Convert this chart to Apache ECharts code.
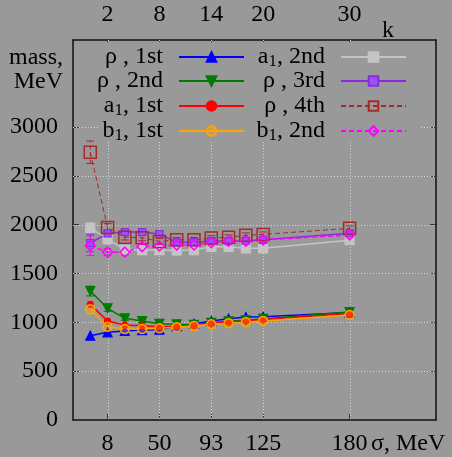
<!DOCTYPE html>
<html>
<head>
<meta charset="utf-8">
<script src="https://cdn.jsdelivr.net/npm/echarts/dist/echarts.min.js"></script>
<style>
  html, body { margin: 0; padding: 0; background: #999999; }
  #chart { width: 452px; height: 457px; }
</style>
</head>
<body>
<div id="chart"></div>
<script>
// k on the top axis, sigma (MeV) shown at the same positions on the bottom
var kValues = [0, 2, 4, 6, 8, 10, 12, 14, 16, 18, 20, 30];
var kTicks = [2, 8, 14, 20, 30];
var sigmaLabels = ['8', '50', '93', '125', '180'];
var massTicks = [0, 500, 1000, 1500, 2000, 2500, 3000];

var rho1 = [863, 898, 911, 921, 925, 960, 985, 1013, 1037, 1054, 1057, 1100];
var rho2 = [1320, 1143, 1041, 1013, 985, 980, 975, 995, 1010, 1020, 1035, 1105];
var a1First = [1184, 1013, 972, 965, 955, 960, 968, 990, 1000, 1015, 1030, 1090];
var b1First = [1133, 955, 931, 931, 938, 949, 962, 979, 990, 1000, 1013, 1075];
var a1Second = [1966, 1853, 1745, 1740, 1740, 1735, 1740, 1773, 1773, 1757, 1757, 1840];
var rho3 = [1812, 1911, 1924, 1924, 1904, 1819, 1820, 1832, 1832, 1835, 1844, 1911];
var rho4 = [2741, 1970, 1872, 1865, 1827, 1844, 1844, 1862, 1870, 1890, 1900, 1962];
var b1Second = [1785, 1718, 1718, 1775, 1782, 1792, 1792, 1816, 1830, 1830, 1844, 1895];

// error bars (half widths)
var rho2Err = [50, 30, 20, 15, 15, 15, 15, 15, 15, 15, 15, 20];
var a1SecondErr = [50, 50, 40, 40, 45, 45, 40, 40, 40, 40, 40, 40];
var rho3Err = [90, 30, 25, 25, 25, 20, 20, 20, 20, 20, 20, 25];
var rho4Err = [115, 40, 30, 30, 30, 25, 25, 25, 25, 25, 25, 25];
var b1SecondErr = [100, 35, 30, 25, 25, 25, 25, 25, 25, 25, 25, 25];

var BG = '#999999';
var FONT = 'Liberation Serif';
var GRID_COLOR = '#d6d6d6';

function pairs(vals) {
  return kValues.map(function (k, i) { return [k, vals[i]]; });
}

function errorSeries(vals, errs, color, dashed) {
  return {
    type: 'custom',
    silent: true,
    data: kValues.map(function (k, i) { return [k, vals[i] - errs[i], vals[i] + errs[i]]; }),
    encode: { x: 0, y: [1, 2] },
    renderItem: function (params, api) {
      var lo = api.coord([api.value(0), api.value(1)]);
      var hi = api.coord([api.value(0), api.value(2)]);
      var st = { stroke: color, lineWidth: 1 };
      if (dashed) st.lineDash = [4, 3];
      return {
        type: 'group',
        children: [
          { type: 'line', shape: { x1: lo[0], y1: lo[1], x2: hi[0], y2: hi[1] }, style: st },
          { type: 'line', shape: { x1: lo[0] - 4, y1: lo[1], x2: lo[0] + 4, y2: lo[1] }, style: { stroke: color, lineWidth: 1 } },
          { type: 'line', shape: { x1: hi[0] - 4, y1: hi[1], x2: hi[0] + 4, y2: hi[1] }, style: { stroke: color, lineWidth: 1 } }
        ]
      };
    }
  };
}

// dotted grid through the tick positions
function gridSeries(points, vertical) {
  return {
    type: 'custom',
    silent: true,
    data: points,
    encode: { x: 0, y: 1 },
    renderItem: function (params, api) {
      var cs = params.coordSys;
      var p = api.coord([api.value(0), api.value(1)]);
      var shape = vertical
        ? { x1: Math.round(p[0]) + 0.5, y1: cs.y, x2: Math.round(p[0]) + 0.5, y2: cs.y + cs.height }
        : { x1: cs.x, y1: Math.round(p[1]) + 0.5, x2: cs.x + cs.width, y2: Math.round(p[1]) + 0.5 };
      return { type: 'line', shape: shape, style: { stroke: GRID_COLOR, lineWidth: 1, lineDash: [1, 2] } };
    }
  };
}

function lineSeries(name, vals, color, symbol, size, opts) {
  opts = opts || {};
  return {
    name: name,
    type: 'line',
    data: pairs(vals),
    symbol: symbol,
    symbolSize: size,
    symbolRotate: opts.rotate || 0,
    lineStyle: { color: color, width: opts.width || 1.5, type: opts.dashed ? [5, 3] : 'solid' },
    itemStyle: { color: opts.fill || color, borderColor: color, borderWidth: opts.border || 1.2 },
    emphasis: { disabled: true },
    animation: false
  };
}

var chart = echarts.init(document.getElementById('chart'));

var legendRows = [58, 82, 107, 132];
var col1 = ['ρ , 1st', 'ρ , 2nd', 'a1, 1st', 'b1, 1st'];
var col2 = ['a1, 2nd', 'ρ , 3rd', 'ρ , 4th', 'b1, 2nd'];
var legends = [];
function addLegend(name, row, right) {
  legends.push({
    data: [name],
    top: legendRows[row] - 13,
    right: right,
    align: 'right',
    padding: 0,
    itemWidth: 65,
    itemHeight: 12,
    selectedMode: false,
    formatter: function (n) { return n.replace(/^([ab])1/, '$1{sub|1}') + '{gap|}'; },
    textStyle: {
      fontFamily: FONT, fontSize: 24, color: '#000',
      rich: {
        sub: { fontFamily: FONT, fontSize: 17, color: '#000', padding: [9, 0, 0, 0], verticalAlign: 'bottom' },
        gap: { width: 11 }
      }
    }
  });
}
col1.forEach(function (n, i) { addLegend(n, i, 207); });
col2.forEach(function (n, i) { addLegend(n, i, 45); });

var axisLine = { show: true, onZero: false, lineStyle: { color: '#111', width: 1.5 } };
var tickStyle = { show: true, inside: true, length: 6, lineStyle: { color: '#333', width: 1 } };
var labelStyle = { fontFamily: FONT, fontSize: 24, color: '#000' };

chart.setOption({
  backgroundColor: BG,
  animation: false,
  grid: { left: 73, right: 16, top: 40, bottom: 37, outerBoundsMode: 'none' },
  legend: legends,
  xAxis: [
    {
      type: 'value', position: 'bottom', min: -2, max: 40,
      axisLine: axisLine,
      axisTick: Object.assign({ customValues: kTicks }, tickStyle),
      axisLabel: Object.assign({
        customValues: kTicks, margin: 12,
        formatter: function (v) { return sigmaLabels[kTicks.indexOf(v)]; }
      }, labelStyle),
      splitLine: { show: false }
    },
    {
      type: 'value', position: 'top', min: -2, max: 40,
      axisLine: axisLine,
      axisTick: Object.assign({ customValues: kTicks }, tickStyle),
      axisLabel: Object.assign({ customValues: kTicks, margin: 13, formatter: function (v) { return String(v); } }, labelStyle),
      splitLine: { show: false }
    }
  ],
  yAxis: [
    {
      type: 'value', position: 'left', min: 0, max: 3890,
      axisLine: axisLine,
      axisTick: Object.assign({ customValues: massTicks }, tickStyle),
      axisLabel: Object.assign({ customValues: massTicks, margin: 15, formatter: function (v) { return String(v); } }, labelStyle),
      splitLine: { show: false }
    },
    {
      type: 'value', position: 'right', min: 0, max: 3890,
      axisLine: axisLine,
      axisTick: Object.assign({ customValues: massTicks }, tickStyle),
      axisLabel: { show: false },
      splitLine: { show: false }
    }
  ],
  graphic: [
    // opaque key box
    { type: 'rect', z: 3, silent: true, shape: { x: 100, y: 42, width: 321, height: 98 }, style: { fill: BG } },
    { type: 'text', z: 5, style: { text: 'mass,', x: 63, y: 58, align: 'right', verticalAlign: 'middle', font: '24px "Liberation Serif"', fill: '#000' } },
    { type: 'text', z: 5, style: { text: 'MeV', x: 63, y: 82, align: 'right', verticalAlign: 'middle', font: '24px "Liberation Serif"', fill: '#000' } },
    { type: 'text', z: 5, style: { text: 'k', x: 382, y: 31, align: 'left', verticalAlign: 'middle', font: '24px "Liberation Serif"', fill: '#000' } },
    { type: 'text', z: 5, style: { text: 'σ, MeV', x: 371, y: 444, align: 'left', verticalAlign: 'middle', font: '24px "Liberation Serif"', fill: '#000' } }
  ],
  series: [
    gridSeries(kTicks.map(function (k) { return [k, 0]; }), true),
    gridSeries(massTicks.slice(1).map(function (m) { return [0, m]; }), false),
    lineSeries('ρ , 1st', rho1, '#0000ff', 'triangle', 9),
    errorSeries(rho2, rho2Err, '#007a00', false),
    lineSeries('ρ , 2nd', rho2, '#007a00', 'triangle', 9, { rotate: 180 }),
    lineSeries('a1, 1st', a1First, '#ff0000', 'circle', 6),
    lineSeries('b1, 1st', b1First, '#ffa500', 'circle', 9, { fill: 'rgba(255,165,0,0.35)', border: 1.5 }),
    errorSeries(a1Second, a1SecondErr, '#c4c4c4', false),
    lineSeries('a1, 2nd', a1Second, '#c4c4c4', 'rect', 9),
    errorSeries(rho3, rho3Err, '#8a2be2', false),
    lineSeries('ρ , 3rd', rho3, '#8a2be2', 'rect', 7, { fill: '#9a55f0' }),
    errorSeries(rho4, rho4Err, '#a52a2a', true),
    lineSeries('ρ , 4th', rho4, '#a52a2a', 'rect', 12, { dashed: true, width: 1, fill: 'rgba(0,0,0,0)', border: 1.5 }),
    errorSeries(b1Second, b1SecondErr, '#ff00ff', true),
    lineSeries('b1, 2nd', b1Second, '#ff00ff', 'diamond', 10, { dashed: true, width: 1.5, fill: 'rgba(0,0,0,0)', border: 1.5 })
  ]
});
</script>
</body>
</html>
